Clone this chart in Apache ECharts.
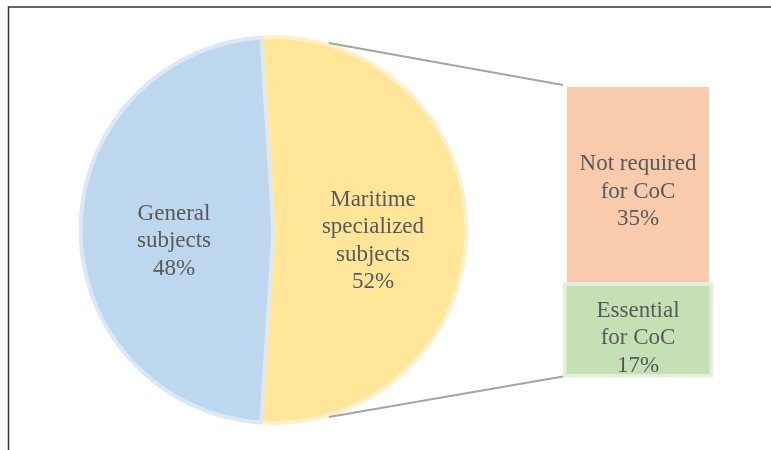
<!DOCTYPE html>
<html>
<head>
<meta charset="utf-8">
<script src="https://cdn.jsdelivr.net/npm/echarts@6/dist/echarts.min.js"></script>
<style>
  html, body { margin: 0; padding: 0; background: #fff; }
  #chart { width: 771px; height: 450px; }
</style>
</head>
<body>
<div id="chart"></div>
<script>
// Course composition: pie of subjects, with the maritime share broken out as a bar
const pieNames = ['Maritime\nspecialized\nsubjects', 'General\nsubjects'];
const pieValues = [52, 48];
const pieColors = ['#FFE699', '#BDD7EE'];
const pieEdgeColors = ['#FFF1C6', '#DCE8F5'];

const barNames = ['Essential\nfor CoC', 'Not required\nfor CoC'];
const barValues = [17, 35];
const barColors = ['#C5E0B4', '#F8CBAD'];
const barEdgeColor = '#E2EFDA';

const barTotal = barValues.reduce((a, b) => a + b, 0);

const FONT = '"Liberation Serif", "Times New Roman", serif';
const TEXT = '#595959';

const pieCenter = [273.5, 230];
const pieRadius = 193;
// the maritime slice is centred on the horizontal axis, opening toward the bar
const startAngle = (pieValues[0] / 100) * 180;

const barGrid = { left: 563, top: 87, width: 150, height: 290.5 };

const chart = echarts.init(document.getElementById('chart'), null, { renderer: 'canvas' });

const labelStyle = {
  fontFamily: FONT,
  fontSize: 23,
  lineHeight: 27.5,
  color: TEXT,
  align: 'center'
};

chart.setOption({
  animation: false,
  backgroundColor: '#ffffff',
  grid: Object.assign({ containLabel: false }, barGrid),
  // two overlaid category axes so the outlined segment can be a little wider
  xAxis: [
    { type: 'category', data: ['CoC'], show: false },
    { type: 'category', data: ['CoC'], show: false }
  ],
  yAxis: { type: 'value', min: 0, max: barTotal, show: false },
  series: [
    {
      type: 'pie',
      center: pieCenter,
      radius: pieRadius,
      startAngle: startAngle,
      clockwise: true,
      silent: true,
      labelLine: { show: false },
      data: pieNames.map((n, i) => ({
        name: n,
        value: pieValues[i],
        itemStyle: { color: pieColors[i], borderColor: pieEdgeColors[i], borderWidth: 4 }
      })),
      label: Object.assign({
        show: true,
        position: 'inner',
        offset: [0, 11],
        formatter: p => p.name + '\n' + p.value + '%'
      }, labelStyle)
    },
    {
      // invisible base so the upper segment starts where the lower one ends
      type: 'bar',
      xAxisIndex: 1,
      stack: 'upper',
      barWidth: 142,
      silent: true,
      data: [barValues[0]],
      itemStyle: { color: 'rgba(0,0,0,0)' }
    },
    {
      type: 'bar',
      name: barNames[1],
      xAxisIndex: 1,
      stack: 'upper',
      barWidth: 142,
      z: 2,
      data: [barValues[1]],
      itemStyle: { color: barColors[1] },
      label: Object.assign({
        show: true,
        position: 'inside',
        offset: [0, 7],
        formatter: p => barNames[1] + '\n' + p.value + '%'
      }, labelStyle)
    },
    {
      type: 'bar',
      name: barNames[0],
      xAxisIndex: 0,
      barWidth: 150,
      z: 3,
      data: [barValues[0]],
      itemStyle: { color: barColors[0], borderColor: barEdgeColor, borderWidth: 3.5 },
      label: Object.assign({
        show: true,
        position: 'inside',
        offset: [0, 8],
        formatter: p => barNames[0] + '\n' + p.value + '%'
      }, labelStyle)
    }
  ]
});

// connector lines from the maritime slice edge to the bar's outer corners
const yTop = chart.convertToPixel({ yAxisIndex: 0 }, barTotal);
const yBot = chart.convertToPixel({ yAxisIndex: 0 }, 0);
const barLeft = barGrid.left;
const a = 73.5 * Math.PI / 180;
const rEdge = pieRadius + 2;
const p1 = [pieCenter[0] + rEdge * Math.cos(a), pieCenter[1] - rEdge * Math.sin(a)];
const p2 = [pieCenter[0] + rEdge * Math.cos(a), pieCenter[1] + rEdge * Math.sin(a)];

chart.setOption({
  graphic: [
    {
      type: 'rect',
      z: 100,
      silent: true,
      shape: { x: 8.5, y: 7, width: 800, height: 500 },
      style: { fill: 'none', stroke: '#333333', lineWidth: 1.5 }
    },
    {
      type: 'line',
      z: 50,
      silent: true,
      shape: { x1: p1[0], y1: p1[1], x2: barLeft, y2: yTop - 2 },
      style: { stroke: '#A5A5A5', lineWidth: 2 }
    },
    {
      type: 'line',
      z: 50,
      silent: true,
      shape: { x1: p2[0], y1: p2[1], x2: barLeft, y2: yBot - 1 },
      style: { stroke: '#A5A5A5', lineWidth: 2 }
    }
  ]
});
</script>
</body>
</html>
